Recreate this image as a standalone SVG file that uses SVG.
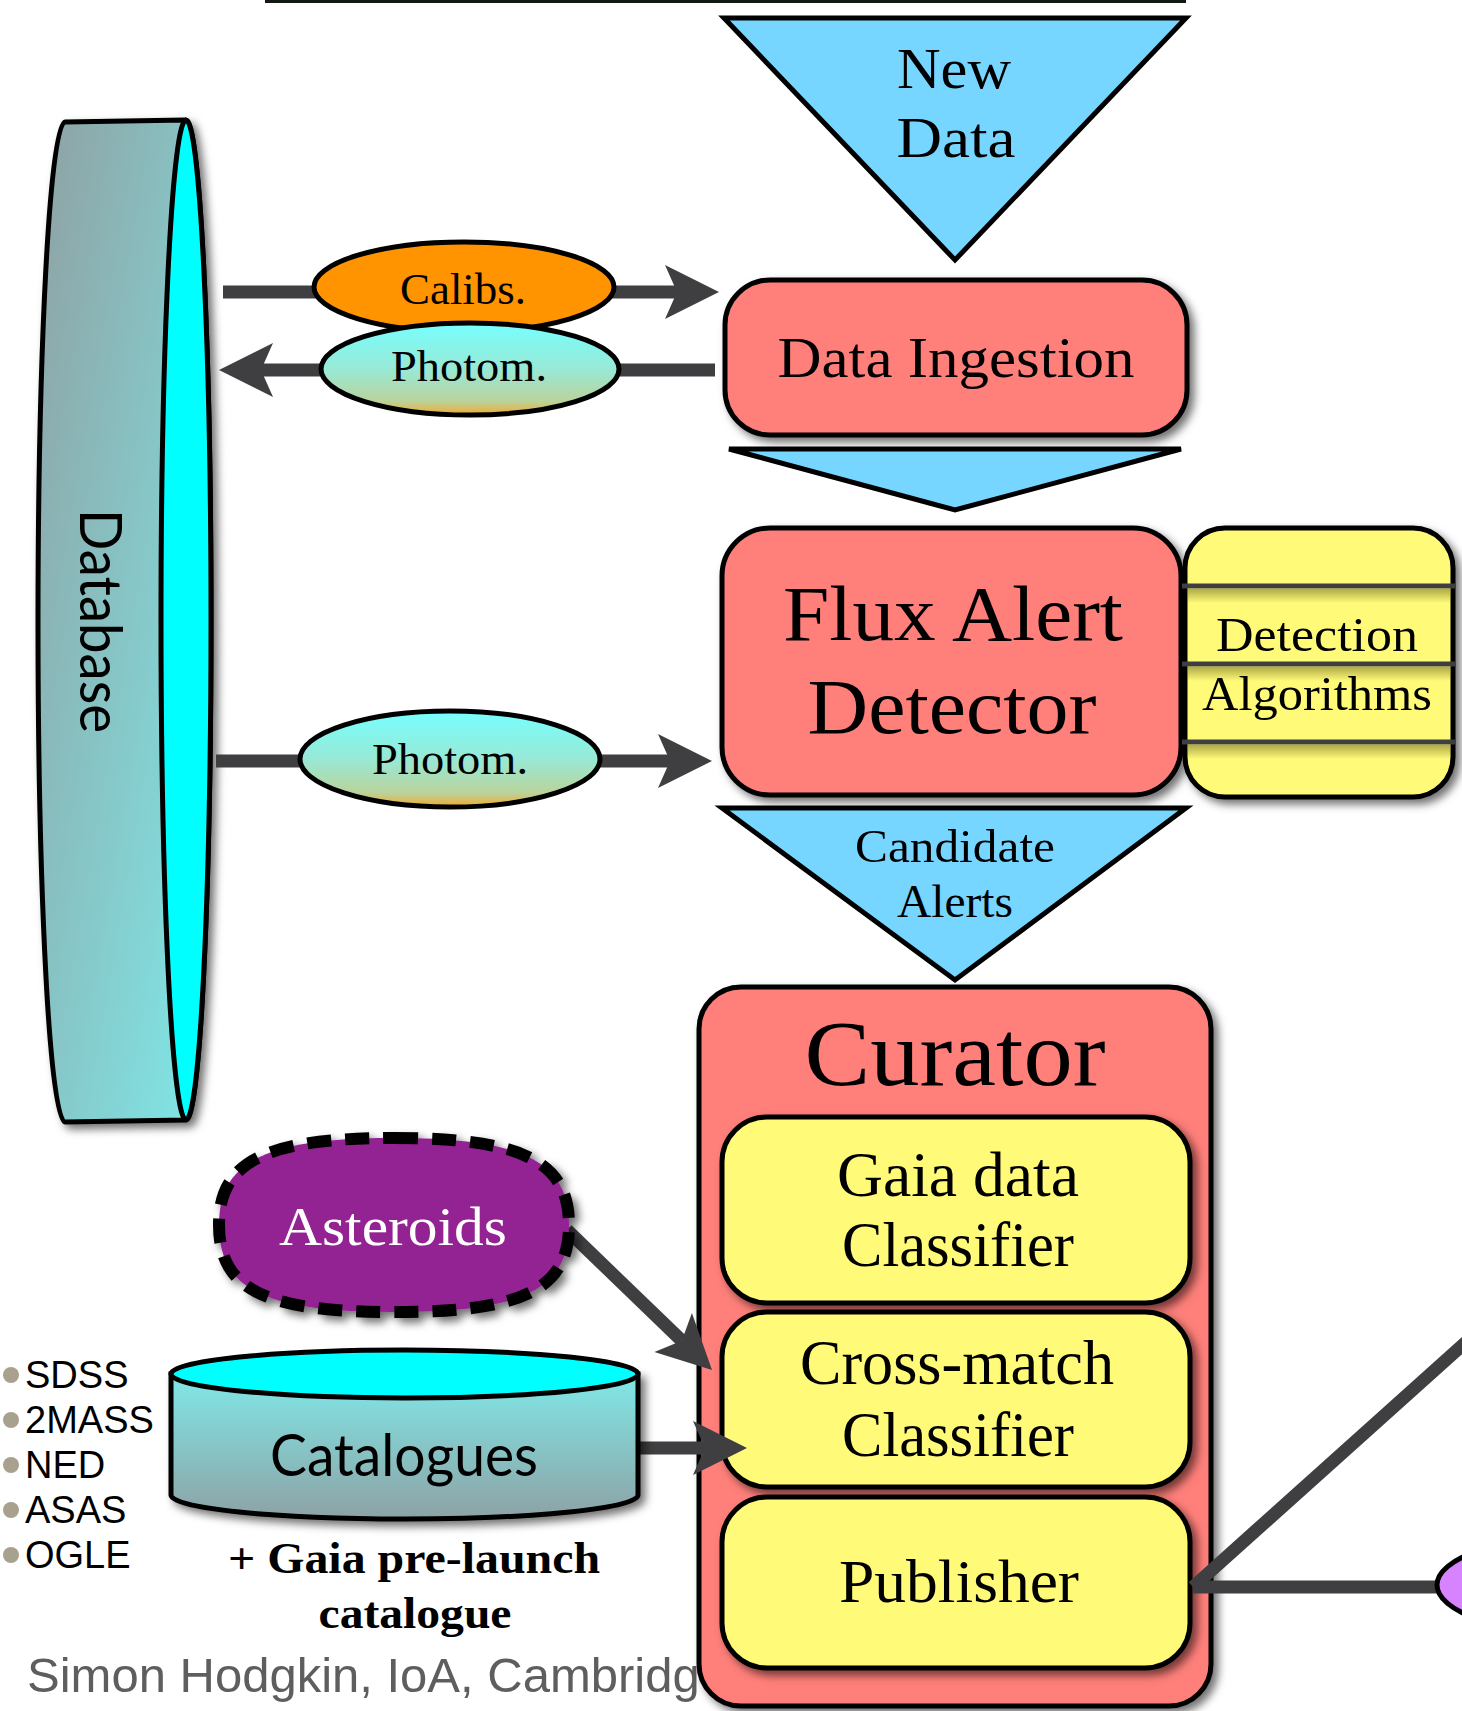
<svg xmlns="http://www.w3.org/2000/svg" width="1462" height="1711" viewBox="0 0 1462 1711">
<defs>
<style>
.sf{font-family:"Liberation Serif","Times New Roman",serif;text-anchor:middle;fill:#000}
.ss{font-family:"Lato","Liberation Sans",sans-serif;text-anchor:middle;fill:#000}
.hs{font-family:"Liberation Sans",Arial,sans-serif;fill:#000}
.box{stroke:#000;stroke-width:5}
.red{fill:#FF7F7A}
.yel{fill:#FFFA78}
.tri{fill:#76D6FF;stroke:#000;stroke-width:5;stroke-linejoin:miter}
.con{stroke:#3F3F41;stroke-width:13;fill:none}
.ell{stroke:#000;stroke-width:5}
</style>
<filter id="sh" x="-15%" y="-15%" width="140%" height="140%">
<feDropShadow dx="5" dy="5" stdDeviation="4" flood-color="#000" flood-opacity="0.55"/>
</filter>
<linearGradient id="dbg" x1="0" y1="0" x2="1" y2="1">
<stop offset="0" stop-color="#8FA1A3"/>
<stop offset="1" stop-color="#7FE9E9"/>
</linearGradient>
<linearGradient id="catg" x1="0" y1="0" x2="0" y2="1">
<stop offset="0" stop-color="#80E8E8"/>
<stop offset="1" stop-color="#8DA2A5"/>
</linearGradient>
<linearGradient id="phg" x1="0" y1="0" x2="0" y2="1">
<stop offset="0" stop-color="#76FFFF"/>
<stop offset="0.5" stop-color="#98E9D5"/>
<stop offset="0.85" stop-color="#BAD39C"/>
<stop offset="1" stop-color="#F2A92E"/>
</linearGradient>
<linearGradient id="lsh" x1="0" y1="0" x2="0" y2="1">
<stop offset="0" stop-color="#6E6A20" stop-opacity="0.55"/>
<stop offset="1" stop-color="#6E6A20" stop-opacity="0"/>
</linearGradient>
<marker id="ah" viewBox="-55 -28 56 56" refX="-42" refY="0" markerWidth="56" markerHeight="56" markerUnits="userSpaceOnUse" orient="auto">
<path d="M0,0 L-54,-27 L-42,0 L-54,27 Z" fill="#3F3F41"/>
</marker>
</defs>

<rect x="0" y="0" width="1462" height="1711" fill="#fff"/>
<rect x="265" y="0" width="921" height="3" fill="#121812"/>

<!-- footer & lists -->
<g id="footer">
<text class="hs" x="27" y="1692" font-size="49" style="fill:#5E5E5E">Simon Hodgkin, IoA, Cambridg</text>
</g>
<g id="catalogue-list">
<circle cx="11" cy="1375" r="8" fill="#A8A18E"/>
<circle cx="11" cy="1420" r="8" fill="#A8A18E"/>
<circle cx="11" cy="1465" r="8" fill="#A8A18E"/>
<circle cx="11" cy="1510" r="8" fill="#A8A18E"/>
<circle cx="11" cy="1555" r="8" fill="#A8A18E"/>
<text class="hs" x="25" y="1388" font-size="38">SDSS</text>
<text class="hs" x="25" y="1433" font-size="38">2MASS</text>
<text class="hs" x="25" y="1478" font-size="38">NED</text>
<text class="hs" x="25" y="1523" font-size="38">ASAS</text>
<text class="hs" x="25" y="1568" font-size="38">OGLE</text>
</g>
<g id="gaia-prelaunch">
<text class="sf" x="414" y="1573" font-size="44" font-weight="bold" textLength="372" lengthAdjust="spacingAndGlyphs">+ Gaia pre-launch</text>
<text class="sf" x="415" y="1628" font-size="44" font-weight="bold" textLength="193" lengthAdjust="spacingAndGlyphs">catalogue</text>
</g>

<!-- Database -->
<g id="database">
<path d="M65,122 L186,120 A25,500 0 0 1 186,1120 L65,1122 A27,500 0 0 1 65,122 Z" fill="url(#dbg)" class="box" filter="url(#sh)"/>
<ellipse cx="186" cy="620" rx="25" ry="500" fill="#00FFFF" class="box"/>
<text class="ss" transform="translate(80,621) rotate(90)" font-size="58" textLength="224" lengthAdjust="spacingAndGlyphs">Database</text>
</g>

<!-- New Data -->
<g id="new-data">
<polygon class="tri" points="724,18 1186,18 955,260"/>
<text class="sf" x="954" y="88" font-size="56" textLength="114" lengthAdjust="spacingAndGlyphs">New</text>
<text class="sf" x="956" y="157" font-size="56" textLength="119" lengthAdjust="spacingAndGlyphs">Data</text>
</g>

<g id="data-ingestion">
<rect x="725" y="280" width="462" height="155" rx="45" class="box red" filter="url(#sh)"/>
<text class="sf" x="956" y="377" font-size="56" textLength="357" lengthAdjust="spacingAndGlyphs">Data Ingestion</text>
</g>

<g id="chevron">
<polygon class="tri" points="729,449 1181,449 955,510"/>
</g>

<g id="flux-alert-detector">
<rect x="722" y="528" width="459" height="267" rx="48" class="box red" filter="url(#sh)"/>
<text class="sf" x="953" y="640" font-size="78" textLength="340" lengthAdjust="spacingAndGlyphs">Flux Alert</text>
<text class="sf" x="952" y="733" font-size="78" textLength="289" lengthAdjust="spacingAndGlyphs">Detector</text>
</g>

<g id="detection-algorithms">
<rect x="1185" y="528" width="268" height="269" rx="40" class="box yel" filter="url(#sh)"/>
<rect x="1187" y="589" width="264" height="14" fill="url(#lsh)"/>
<rect x="1187" y="667" width="264" height="14" fill="url(#lsh)"/>
<rect x="1187" y="745" width="264" height="14" fill="url(#lsh)"/>
<line x1="1182" y1="586" x2="1456" y2="586" stroke="#3F3F41" stroke-width="5"/>
<line x1="1182" y1="664" x2="1456" y2="664" stroke="#3F3F41" stroke-width="5"/>
<line x1="1182" y1="742" x2="1456" y2="742" stroke="#3F3F41" stroke-width="5"/>
<text class="sf" x="1317" y="651" font-size="48" textLength="202" lengthAdjust="spacingAndGlyphs">Detection</text>
<text class="sf" x="1317" y="710" font-size="48" textLength="230" lengthAdjust="spacingAndGlyphs">Algorithms</text>
</g>

<g id="candidate-alerts">
<polygon class="tri" points="722,808 1186,808 955,980"/>
<text class="sf" x="955" y="862" font-size="47" textLength="200" lengthAdjust="spacingAndGlyphs">Candidate</text>
<text class="sf" x="955" y="917" font-size="47" textLength="116" lengthAdjust="spacingAndGlyphs">Alerts</text>
</g>

<g id="curator">
<rect x="699" y="987" width="512" height="719" rx="42" class="box red" filter="url(#sh)"/>
<text class="sf" x="955" y="1085" font-size="94" textLength="301" lengthAdjust="spacingAndGlyphs">Curator</text>
</g>
<g id="gaia-classifier">
<rect x="722" y="1117" width="468" height="186" rx="45" class="box yel" filter="url(#sh)"/>
<text class="sf" x="958" y="1196" font-size="64" textLength="242" lengthAdjust="spacingAndGlyphs">Gaia data</text>
<text class="sf" x="958" y="1266" font-size="64" textLength="232" lengthAdjust="spacingAndGlyphs">Classifier</text>
</g>
<g id="crossmatch-classifier">
<rect x="722" y="1312" width="468" height="175" rx="45" class="box yel" filter="url(#sh)"/>
<text class="sf" x="957" y="1384" font-size="64" textLength="314" lengthAdjust="spacingAndGlyphs">Cross-match</text>
<text class="sf" x="958" y="1456" font-size="64" textLength="232" lengthAdjust="spacingAndGlyphs">Classifier</text>
</g>
<g id="publisher">
<rect x="722" y="1497" width="468" height="171" rx="45" class="box yel" filter="url(#sh)"/>
<text class="sf" x="959" y="1602" font-size="62" textLength="240" lengthAdjust="spacingAndGlyphs">Publisher</text>
</g>

<!-- connectors -->
<g id="connectors">
<line class="con" x1="223" y1="292" x2="677" y2="292" marker-end="url(#ah)"/>
<line class="con" x1="715" y1="370" x2="261" y2="370" marker-end="url(#ah)"/>
<line class="con" x1="216" y1="761" x2="670" y2="761" marker-end="url(#ah)"/>
<line class="con" x1="567" y1="1230" x2="681.8" y2="1340.8" marker-end="url(#ah)"/>
<line class="con" x1="638" y1="1448" x2="705" y2="1448" marker-end="url(#ah)"/>
<line class="con" x1="1193" y1="1587" x2="1485" y2="1325"/>
<line class="con" x1="1193" y1="1587" x2="1445" y2="1587"/>
</g>

<!-- Ellipses -->
<g id="calibs">
<ellipse cx="464" cy="287" rx="150" ry="45" fill="#FF9300" class="ell"/>
<text class="sf" x="463" y="304" font-size="44" textLength="126" lengthAdjust="spacingAndGlyphs">Calibs.</text>
</g>
<g id="photom-1">
<ellipse cx="470" cy="369" rx="149" ry="46" fill="url(#phg)" class="ell"/>
<text class="sf" x="469" y="381" font-size="44" textLength="156" lengthAdjust="spacingAndGlyphs">Photom.</text>
</g>
<g id="photom-2">
<ellipse cx="450" cy="759" rx="150" ry="48" fill="url(#phg)" class="ell"/>
<text class="sf" x="450" y="774" font-size="44" textLength="156" lengthAdjust="spacingAndGlyphs">Photom.</text>
</g>

<g id="asteroids">
<path d="M394,1138 C522,1138 569,1161 569,1225 C569,1290 522,1312 394,1312 C266,1312 219,1290 219,1225 C219,1161 266,1138 394,1138 Z" fill="#932092" stroke="#000" stroke-width="12" stroke-dasharray="24 14" filter="url(#sh)"/>
<text class="sf" x="393" y="1245" font-size="54" style="fill:#fff" textLength="228" lengthAdjust="spacingAndGlyphs">Asteroids</text>
</g>

<g id="catalogues">
<path d="M171,1374 L171,1495 A233.5,24 0 0 0 638,1495 L638,1374 Z" fill="url(#catg)" class="box" filter="url(#sh)"/>
<ellipse cx="404.5" cy="1374" rx="233.5" ry="24" fill="#00FFFF" class="box"/>
<text class="ss" x="404" y="1476" font-size="58" textLength="268" lengthAdjust="spacingAndGlyphs">Catalogues</text>
</g>

<g id="purple-node">
<ellipse cx="1587" cy="1585" rx="150" ry="50" fill="#D783FF" class="ell"/>
</g>
</svg>
